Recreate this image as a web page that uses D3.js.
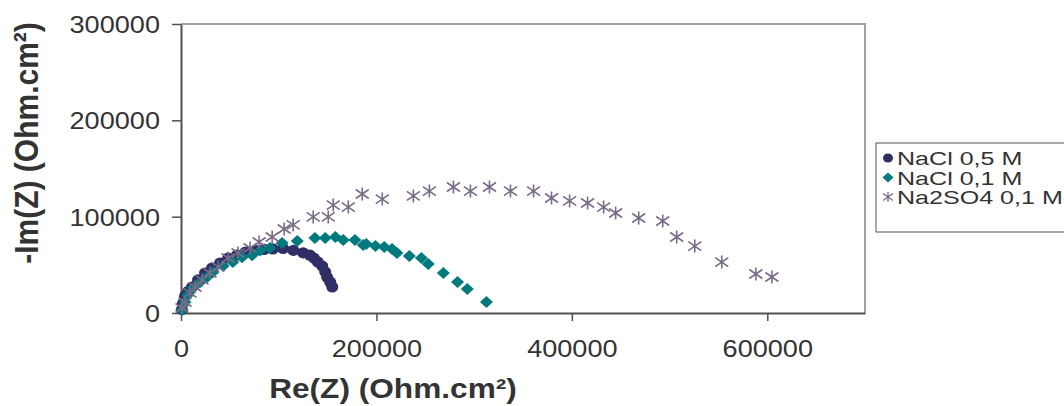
<!DOCTYPE html>
<html><head><meta charset="utf-8">
<script src="https://cdn.jsdelivr.net/npm/d3@7"></script>
<style>body{margin:0;background:#fff}svg{display:block}text{font-family:"Liberation Sans",Arial,sans-serif;fill:#333}</style>
</head><body>
<svg id="c" width="1064" height="406"></svg>
<script>
const seriesNames = ["NaCl 0,5 M", "NaCl 0,1 M", "Na2SO4 0,1 M"];
const xTicks = [0, 200000, 400000, 600000];
const yTicks = [0, 100000, 200000, 300000];
const xTitle = "Re(Z) (Ohm.cm²)";
const yTitle = "-Im(Z) (Ohm.cm²)";

const nacl05Re = [800, 2000, 4100, 7500, 11300, 17400, 24600, 31800, 40000, 48200, 57400, 66000, 76000, 85000, 94000, 104500, 115000, 125000, 132000, 136000, 140000, 144500, 147600, 149600, 152700, 154800];
const nacl05Im = [3500, 10000, 17500, 22500, 27000, 34300, 41500, 46700, 51900, 57100, 60200, 63300, 65000, 66000, 66500, 67000, 65000, 62500, 60000, 57000, 53000, 48800, 42600, 37000, 32000, 27000];

const nacl01Re = [1000, 4000, 7000, 12300, 19500, 26600, 32800, 43000, 53000, 62500, 72800, 81000, 91000, 103500, 119000, 137000, 147600, 158000, 166000, 178000, 186500, 189600, 199000, 208000, 216000, 221000, 233700, 246000, 253000, 268500, 283000, 293000, 312600];
const nacl01Im = [3000, 11400, 18700, 26000, 32000, 37000, 42600, 48800, 53000, 58000, 60000, 65000, 67500, 72700, 74700, 77900, 77900, 78900, 75800, 75800, 70600, 71600, 69500, 68500, 66400, 62300, 59200, 57000, 50900, 41500, 32200, 24900, 11400];

const na2so4Re = [1000, 4100, 9200, 14300, 21500, 29700, 37900, 48200, 58400, 70700, 79900, 93300, 105600, 114800, 135300, 150700, 155800, 171200, 185500, 206000, 237800, 254200, 278800, 296200, 315700, 337200, 360800, 379200, 397700, 416100, 432500, 444800, 468400, 493000, 507300, 525800, 553400, 588300, 604700];
const na2so4Im = [5200, 11400, 20800, 27000, 34300, 41500, 47800, 57100, 62300, 67500, 73700, 78900, 87200, 91400, 99700, 99700, 112000, 110000, 123500, 118300, 121500, 126600, 130800, 126600, 130800, 126600, 126600, 119400, 116300, 114200, 110000, 103800, 98600, 95500, 78900, 69500, 52900, 40500, 37400];

const colors = ["#2f2f66", "#007a7f", "#7a6b88"];
const SX = 1.13; // horizontal glyph stretch

const svg = d3.select("#c");
const L = 181, R = 865, T = 24, B = 313;
const x = d3.scaleLinear().domain([0, 700000]).range([L, R]);
const y = d3.scaleLinear().domain([0, 300000]).range([B, T]);

// frame top/right
svg.append("path").attr("d", `M${L},${T}H${R}V${B}`).attr("fill", "none").attr("stroke", "#aaa0a0").attr("stroke-width", 2);

// axes
const gy = svg.append("g").attr("transform", `translate(${L},0)`)
  .call(d3.axisLeft(y).tickValues(yTicks).tickSize(9).tickSizeOuter(0).tickFormat(d3.format("d")));
const gx = svg.append("g").attr("transform", `translate(0,${B})`)
  .call(d3.axisBottom(x).tickValues(xTicks).tickSize(8).tickSizeOuter(0).tickFormat(d3.format("d")));
[gx, gy].forEach(g => {
  g.select(".domain").attr("stroke", "#505050").attr("stroke-width", 2);
  g.selectAll(".tick line").attr("stroke", "#505050").attr("stroke-width", 1.5);
  g.selectAll(".tick text").attr("font-size", 24).attr("fill", "#333")
    .attr("font-family", '"Liberation Sans",Arial,sans-serif');
});
gy.selectAll(".tick text").attr("x", -21 / SX).attr("dy", "0.35em").attr("transform", `scale(${SX},1)`);
gx.selectAll(".tick text").attr("y", 0).attr("dy", 0).attr("transform", `translate(0,44) scale(${SX},1)`);

// titles
svg.append("text").text(xTitle).attr("font-weight", "bold").attr("font-size", 28)
  .attr("text-anchor", "middle").attr("transform", `translate(393,398) scale(${SX},1)`);
svg.append("text").text(yTitle).attr("font-weight", "bold").attr("font-size", 30)
  .attr("text-anchor", "middle").attr("transform", `translate(38,143) scale(${SX},1) rotate(-90)`);

// markers
const star = "M0,-6.5V6.5M-6.5,-4.5L6.5,4.5M-6.5,4.5L6.5,-4.5";
function drawMarker(g, i) {
  if (i === 0) g.append("ellipse").attr("rx", 6).attr("ry", 5.6).attr("fill", colors[0]);
  else if (i === 1) g.append("path").attr("d", "M0,-6L6.5,0L0,6L-6.5,0Z").attr("fill", colors[1]);
  else g.append("path").attr("d", star).attr("stroke", colors[2]).attr("stroke-width", 1.6).attr("fill", "none");
}
const series = [
  d3.zip(nacl05Re, nacl05Im),
  d3.zip(nacl01Re, nacl01Im),
  d3.zip(na2so4Re, na2so4Im)
];
series.forEach((pts, i) => {
  const g = svg.append("g");
  g.selectAll("g").data(pts).join("g")
    .attr("transform", d => `translate(${x(d[0])},${y(d[1])})`)
    .each(function () { drawMarker(d3.select(this), i); });
});

// legend
const LSX = 1.32;
const lg = svg.append("g");
lg.append("rect").attr("x", 876).attr("y", 143).attr("width", 200).attr("height", 89)
  .attr("fill", "#fff").attr("stroke", "#555").attr("stroke-width", 1);
seriesNames.forEach((n, i) => {
  const cy = 158 + i * 19.5;
  const m = lg.append("g").attr("transform", `translate(888,${cy})`);
  if (i === 0) m.append("ellipse").attr("rx", 5).attr("ry", 4.6).attr("fill", colors[0]);
  else if (i === 1) m.append("path").attr("d", "M0,-5L5.5,0L0,5L-5.5,0Z").attr("fill", colors[1]);
  else m.append("path").attr("d", "M0,-5V5M-5,-3.5L5,3.5M-5,3.5L5,-3.5").attr("stroke", colors[2]).attr("stroke-width", 1.3).attr("fill", "none");
  lg.append("text").text(n).attr("font-size", 19)
    .attr("transform", `translate(897,${cy + 7}) scale(${LSX},1)`);
});
</script>
</body></html>
